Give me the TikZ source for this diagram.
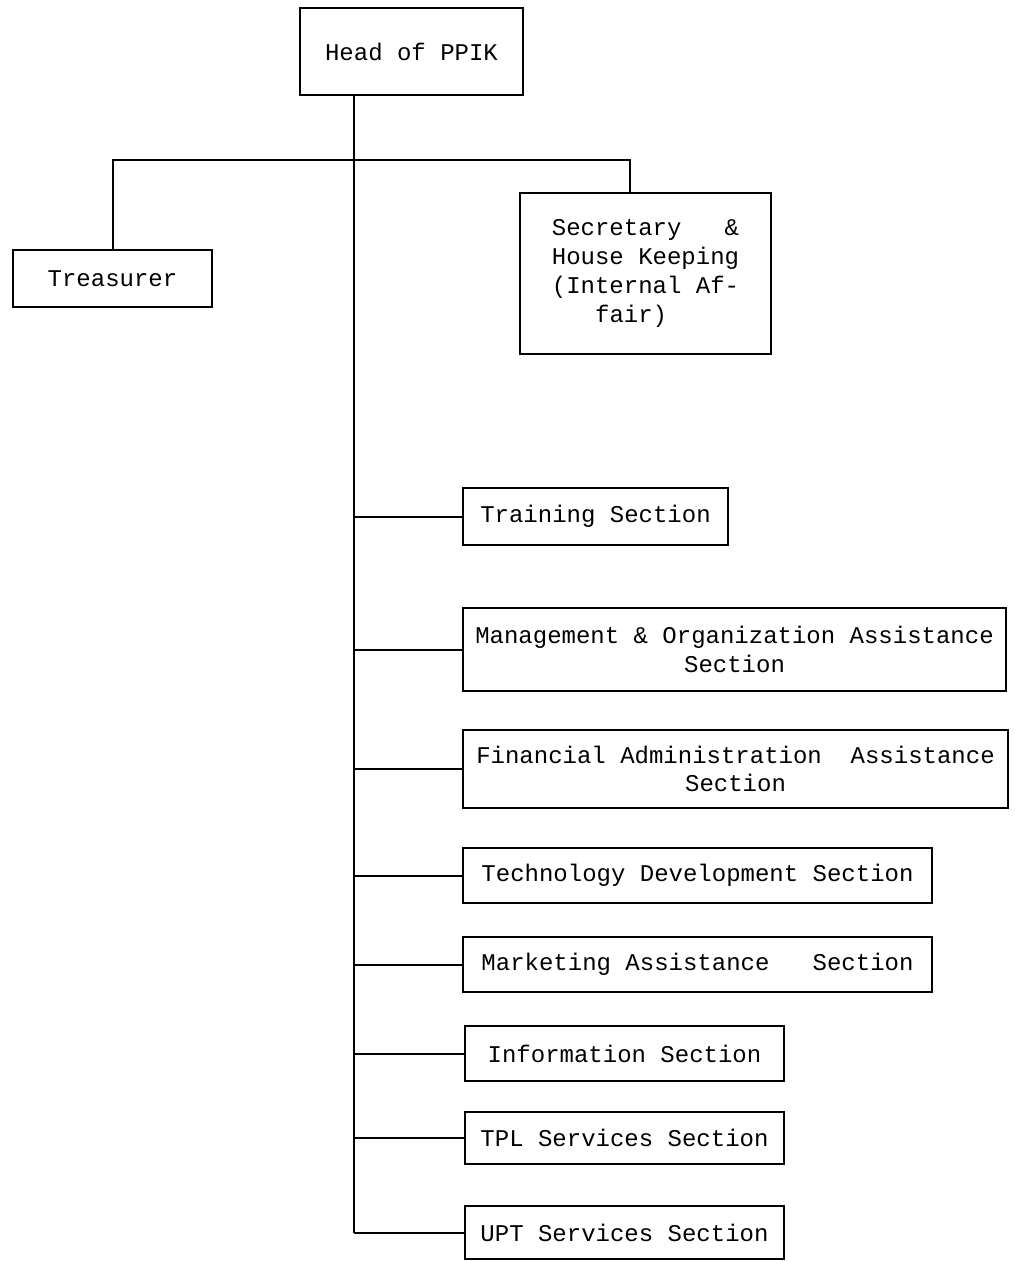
\documentclass[tikz,border=0pt]{standalone}
\usepackage{fontspec}
\setmonofont{Liberation Mono}
\begin{document}
\begin{tikzpicture}[x=0.5pt,y=-0.5pt,line width=1pt,
  every node/.style={font=\ttfamily\fontsize{12}{14.4}\selectfont},
  unit/.style={draw,line width=1.1pt,align=center,inner sep=2pt}]
\useasboundingbox (0,0) rectangle (1014,1261);
% Head and staff
\node[unit,minimum width=111.5pt,minimum height=43.5pt] (head) at (411.5,51.5) {Head of PPIK};
\node[unit,minimum width=99.5pt,minimum height=28.5pt] (treas) at (112.5,278.5) {Treasurer};
\node[unit,align=left,minimum width=125.5pt,minimum height=80.5pt] (secr) at (645.5,273.5) {Secretary\ \ \ \&\\House Keeping\\(Internal Af-\\\ \ \ fair)};
\coordinate (top) at (354,95);
\coordinate (bar) at (354,160);
\coordinate (sectop) at (630,193);
\draw (treas.north) |- (bar) -| (sectop);
% Sections
\node[unit,minimum width=132.5pt,minimum height=28.5pt] (train) at (595.5,516.5) {Training Section};
\node[unit,minimum width=271.5pt,minimum height=41.5pt] (mgmt) at (734.5,649.5) {Management \& Organization Assistance\\Section};
\node[unit,minimum width=272.5pt,minimum height=39pt] (fin) at (735.5,769) {Financial Administration\ \ Assistance\\Section};
\node[unit,minimum width=234.5pt,minimum height=27.5pt] (tech) at (697.5,875.5) {Technology Development Section};
\node[unit,minimum width=234.5pt,minimum height=27.5pt] (mkt) at (697.5,964.5) {Marketing Assistance\ \ \ Section};
\node[unit,minimum width=159.5pt,minimum height=27.5pt] (info) at (624.5,1053.5) {Information Section};
\node[unit,minimum width=159.5pt,minimum height=26pt] (tpl) at (624.5,1138) {TPL Services Section};
\node[unit,minimum width=159.5pt,minimum height=26.5pt] (upt) at (624.5,1232.5) {UPT Services Section};
% Trunk and branches
\draw (top) -- (top |- upt.west);
\foreach \s in {train,mgmt,fin,tech,mkt,info,tpl,upt}
  \draw (top |- \s.west) -- (\s.west);
\end{tikzpicture}
\end{document}
